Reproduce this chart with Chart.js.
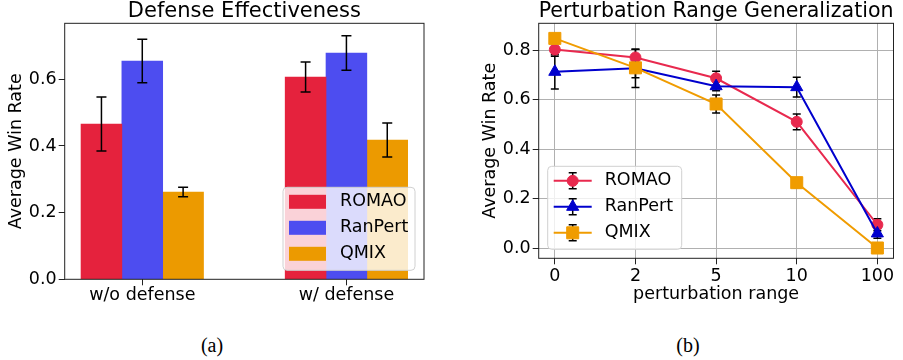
<!DOCTYPE html>
<html>
<head>
<meta charset="utf-8">
<script src="https://cdn.jsdelivr.net/npm/chart.js@4"></script>
<style>
  html, body { margin: 0; padding: 0; background: #fff; }
  #wrap { position: relative; width: 903px; height: 360px; }
  .panel { position: absolute; top: 0; height: 320px; }
  #panel-a { left: 0; width: 450px; }
  #panel-b { left: 450px; width: 453px; }
  .caption { position: absolute; top: 334px; font: 20px "Liberation Serif", serif; transform: translateX(-50%); color: #000; }
</style>
</head>
<body>
<div id="wrap">
  <div class="panel" id="panel-a"><canvas id="bar-chart"></canvas></div>
  <div class="panel" id="panel-b"><canvas id="line-chart"></canvas></div>
  <div class="caption" style="left:212px">(a)</div>
  <div class="caption" style="left:688px">(b)</div>
</div>
<script>
// ── Data ───────────────────────────────────────────────────────────────────

const methods = ["ROMAO", "RanPert", "QMIX"];

// (a) defense effectiveness
const defenseCats       = ["w/o defense", "w/ defense"];
const romaoDefense      = [0.466, 0.607];
const romaoDefenseErr   = [0.081, 0.045];
const ranpertDefense    = [0.655, 0.679];
const ranpertDefenseErr = [0.065, 0.052];
const qmixDefense       = [0.262, 0.418];
const qmixDefenseErr    = [0.014, 0.051];
const defenseTicks      = [0, 0.2, 0.4, 0.6];

// (b) perturbation range generalization
const rangeCats       = ["0", "2", "5", "10", "100"];
const romaoRange      = [0.802, 0.770, 0.686, 0.510, 0.094];
const romaoRangeErr   = [0.027, 0.033, 0.028, 0.032, 0.024];
const ranpertRange    = [0.712, 0.726, 0.654, 0.650, 0.059];
const ranpertRangeErr = [0.069, 0.077, 0.019, 0.040, 0.020];
const qmixRange       = [0.847, 0.728, 0.582, 0.264, 0.000];
const qmixRangeErr    = [0.010, 0.040, 0.036, 0.020, 0.005];
const rangeTicks      = [0, 0.2, 0.4, 0.6, 0.8];

// ── Setup ──────────────────────────────────────────────────────────────────

Chart.defaults.font.family = "'DejaVu Sans', sans-serif";
Chart.defaults.font.size = 17.5;
Chart.defaults.color = "#000";
Chart.defaults.animation = false;

const INK = "#222";
const barColors  = ["#e5223d", "#4d4df0", "#ec9a00"];
const lineColors = ["#e8294e", "#0000cd", "#f09c00"];
const markers    = [
  { style: "circle",   radius: 5.5 },
  { style: "triangle", radius: 7 },
  { style: "rect",     radius: 8.5 },
];

// full box around the plot area (matplotlib spines)
const frame = {
  id: "frame",
  afterDatasetsDraw(chart) {
    const { ctx, chartArea: a } = chart;
    ctx.save();
    ctx.strokeStyle = INK;
    ctx.lineWidth = 1;
    ctx.strokeRect(a.left, a.top, a.right - a.left, a.bottom - a.top);
    ctx.restore();
  },
};

function drawErrors(chart, capHalf) {
  const { ctx } = chart;
  const yScale = chart.scales.y;
  ctx.save();
  ctx.strokeStyle = "#000";
  ctx.lineWidth = 1.5;
  chart.data.datasets.forEach((ds, di) => {
    const meta = chart.getDatasetMeta(di);
    meta.data.forEach((el, i) => {
      const v = ds.data[i].y, e = ds.errors[i];
      const x = el.x;
      const y1 = yScale.getPixelForValue(v + e);
      const y2 = yScale.getPixelForValue(v - e);
      ctx.beginPath();
      ctx.moveTo(x, y1); ctx.lineTo(x, y2);
      ctx.moveTo(x - capHalf, y1); ctx.lineTo(x + capHalf, y1);
      ctx.moveTo(x - capHalf, y2); ctx.lineTo(x + capHalf, y2);
      ctx.stroke();
    });
  });
  ctx.restore();
}

const errorBars = {
  id: "errorBars",
  beforeDatasetsDraw(chart, args, opts) { if (opts.under) drawErrors(chart, opts.cap); },
  afterDatasetsDraw(chart, args, opts)  { if (!opts.under) drawErrors(chart, opts.cap); },
};

// legend drawn inside the plot area, like matplotlib's
const legendBox = {
  id: "legendBox",
  afterDatasetsDraw(chart, args, o) {
    const { ctx, chartArea: a } = chart;
    const x0 = o.side === "right" ? a.right - o.margin - o.width : a.left + o.margin;
    const y0 = a.bottom - o.margin - o.height;
    ctx.save();
    ctx.beginPath();
    ctx.roundRect(x0, y0, o.width, o.height, 4);
    ctx.fillStyle = "rgba(255,255,255,0.8)";
    ctx.fill();
    ctx.strokeStyle = "#d0d0d0";
    ctx.lineWidth = 1;
    ctx.stroke();

    chart.data.datasets.forEach((ds, i) => {
      const cy = y0 + 14.5 + i * 26;
      if (o.kind === "bar") {
        ctx.fillStyle = ds.backgroundColor;
        ctx.fillRect(x0 + 6, cy - 7, 37, 14);
      } else {
        const mx = x0 + 25;
        ctx.strokeStyle = ds.borderColor;
        ctx.lineWidth = 2;
        ctx.beginPath();
        ctx.moveTo(x0 + 6, cy); ctx.lineTo(x0 + 44, cy);
        ctx.stroke();
        ctx.strokeStyle = "#000";
        ctx.lineWidth = 1.5;
        ctx.beginPath();
        ctx.moveTo(mx, cy - 8); ctx.lineTo(mx, cy + 8);
        ctx.moveTo(mx - 4, cy - 8); ctx.lineTo(mx + 4, cy - 8);
        ctx.moveTo(mx - 4, cy + 8); ctx.lineTo(mx + 4, cy + 8);
        ctx.stroke();
        ctx.fillStyle = ds.borderColor;
        ctx.strokeStyle = ds.borderColor;
        ctx.lineWidth = 1;
        Chart.helpers.drawPoint(ctx, {
          pointStyle: ds.pointStyle, radius: ds.pointRadius, rotation: 0, borderWidth: 1,
        }, mx, cy);
      }
      ctx.fillStyle = "#000";
      ctx.font = "17.5px 'DejaVu Sans', sans-serif";
      ctx.textBaseline = "middle";
      ctx.textAlign = "left";
      ctx.fillText(ds.label, x0 + 57, cy);
    });
    ctx.restore();
  },
};

function axisGrid(onArea) {
  return {
    drawOnChartArea: onArea,
    color: "#b0b0b0",
    lineWidth: 1,
    tickLength: 6,
    tickColor: INK,
    tickWidth: 1,
  };
}

function titleOpts(text) {
  return {
    display: true, text, fullSize: false, color: "#000",
    font: { size: 21, weight: "normal", lineHeight: 1.11 },
    padding: 0,
  };
}

// ── (a) Bar chart ──────────────────────────────────────────────────────────

const groupOffsets = [-0.2, 0, 0.2];
const barValues = [romaoDefense, ranpertDefense, qmixDefense];
const barErrors = [romaoDefenseErr, ranpertDefenseErr, qmixDefenseErr];

new Chart(document.getElementById("bar-chart"), {
  type: "bar",
  data: {
    datasets: methods.map((m, k) => ({
      label: m,
      data: barValues[k].map((v, i) => ({ x: i + groupOffsets[k], y: v })),
      errors: barErrors[k],
      backgroundColor: barColors[k],
      borderWidth: 0,
      barPercentage: 1,
      categoryPercentage: 1,
      grouped: false,
    })),
  },
  options: {
    responsive: true,
    maintainAspectRatio: false,
    layout: { padding: { top: 0, right: 26, bottom: 0, left: 0 } },
    plugins: {
      legend: { display: false },
      tooltip: { enabled: false },
      title: titleOpts("Defense Effectiveness"),
      errorBars: { under: false, cap: 5 },
      legendBox: { kind: "bar", side: "right", margin: 9, width: 132, height: 83 },
    },
    scales: {
      x: {
        type: "linear", min: -0.38, max: 1.38, offset: false,
        afterBuildTicks: s => { s.ticks = defenseCats.map((_, i) => ({ value: i })); },
        afterFit: s => { s.height = 40.7; },
        ticks: { callback: v => defenseCats[v], padding: 0, maxRotation: 0, autoSkip: false },
        grid: { ...axisGrid(false), offset: false },
        border: { display: false },
      },
      y: {
        min: 0, max: 0.768,
        afterBuildTicks: s => { s.ticks = defenseTicks.map(v => ({ value: v })); },
        afterFit: s => { s.width = 64.7; },
        ticks: { callback: v => v.toFixed(1), padding: 2 },
        grid: axisGrid(false),
        border: { display: false },
        title: { display: true, text: "Average Win Rate", padding: { top: 6, bottom: 0 } },
      },
    },
  },
  plugins: [errorBars, frame, legendBox],
});

// ── (b) Line chart ─────────────────────────────────────────────────────────

const lineValues = [romaoRange, ranpertRange, qmixRange];
const lineErrors = [romaoRangeErr, ranpertRangeErr, qmixRangeErr];

new Chart(document.getElementById("line-chart"), {
  type: "line",
  data: {
    datasets: methods.map((m, k) => ({
      label: m,
      data: lineValues[k].map((v, i) => ({ x: i, y: v })),
      errors: lineErrors[k],
      borderColor: lineColors[k],
      backgroundColor: lineColors[k],
      borderWidth: 2,
      pointStyle: markers[k].style,
      pointRadius: markers[k].radius,
      pointBackgroundColor: lineColors[k],
      pointBorderColor: lineColors[k],
      pointBorderWidth: 1,
      tension: 0,
      clip: false,
      order: 3 - k,
    })),
  },
  options: {
    responsive: true,
    maintainAspectRatio: false,
    layout: { padding: { top: 0, right: 5.3, bottom: 0, left: 0 } },
    plugins: {
      legend: { display: false },
      tooltip: { enabled: false },
      title: titleOpts("Perturbation Range Generalization"),
      errorBars: { under: true, cap: 4 },
      legendBox: { kind: "line", side: "left", margin: 9, width: 134, height: 83 },
    },
    scales: {
      x: {
        type: "linear", min: -0.2, max: 4.2,
        afterBuildTicks: s => { s.ticks = rangeCats.map((_, i) => ({ value: i })); },
        afterFit: s => { s.height = 61.7; },
        ticks: { callback: v => rangeCats[v], padding: 2, maxRotation: 0, autoSkip: false },
        grid: axisGrid(true),
        border: { display: false },
        title: { display: true, text: "perturbation range", padding: { top: 0, bottom: 15.5 } },
      },
      y: {
        min: -0.0416, max: 0.908,
        afterBuildTicks: s => { s.ticks = rangeTicks.map(v => ({ value: v })); },
        afterFit: s => { s.width = 88.7; },
        ticks: { callback: v => v.toFixed(1), padding: 2 },
        grid: axisGrid(true),
        border: { display: false },
        title: { display: true, text: "Average Win Rate", padding: { top: 30, bottom: 0 } },
      },
    },
  },
  plugins: [errorBars, frame, legendBox],
});
</script>
</body>
</html>
